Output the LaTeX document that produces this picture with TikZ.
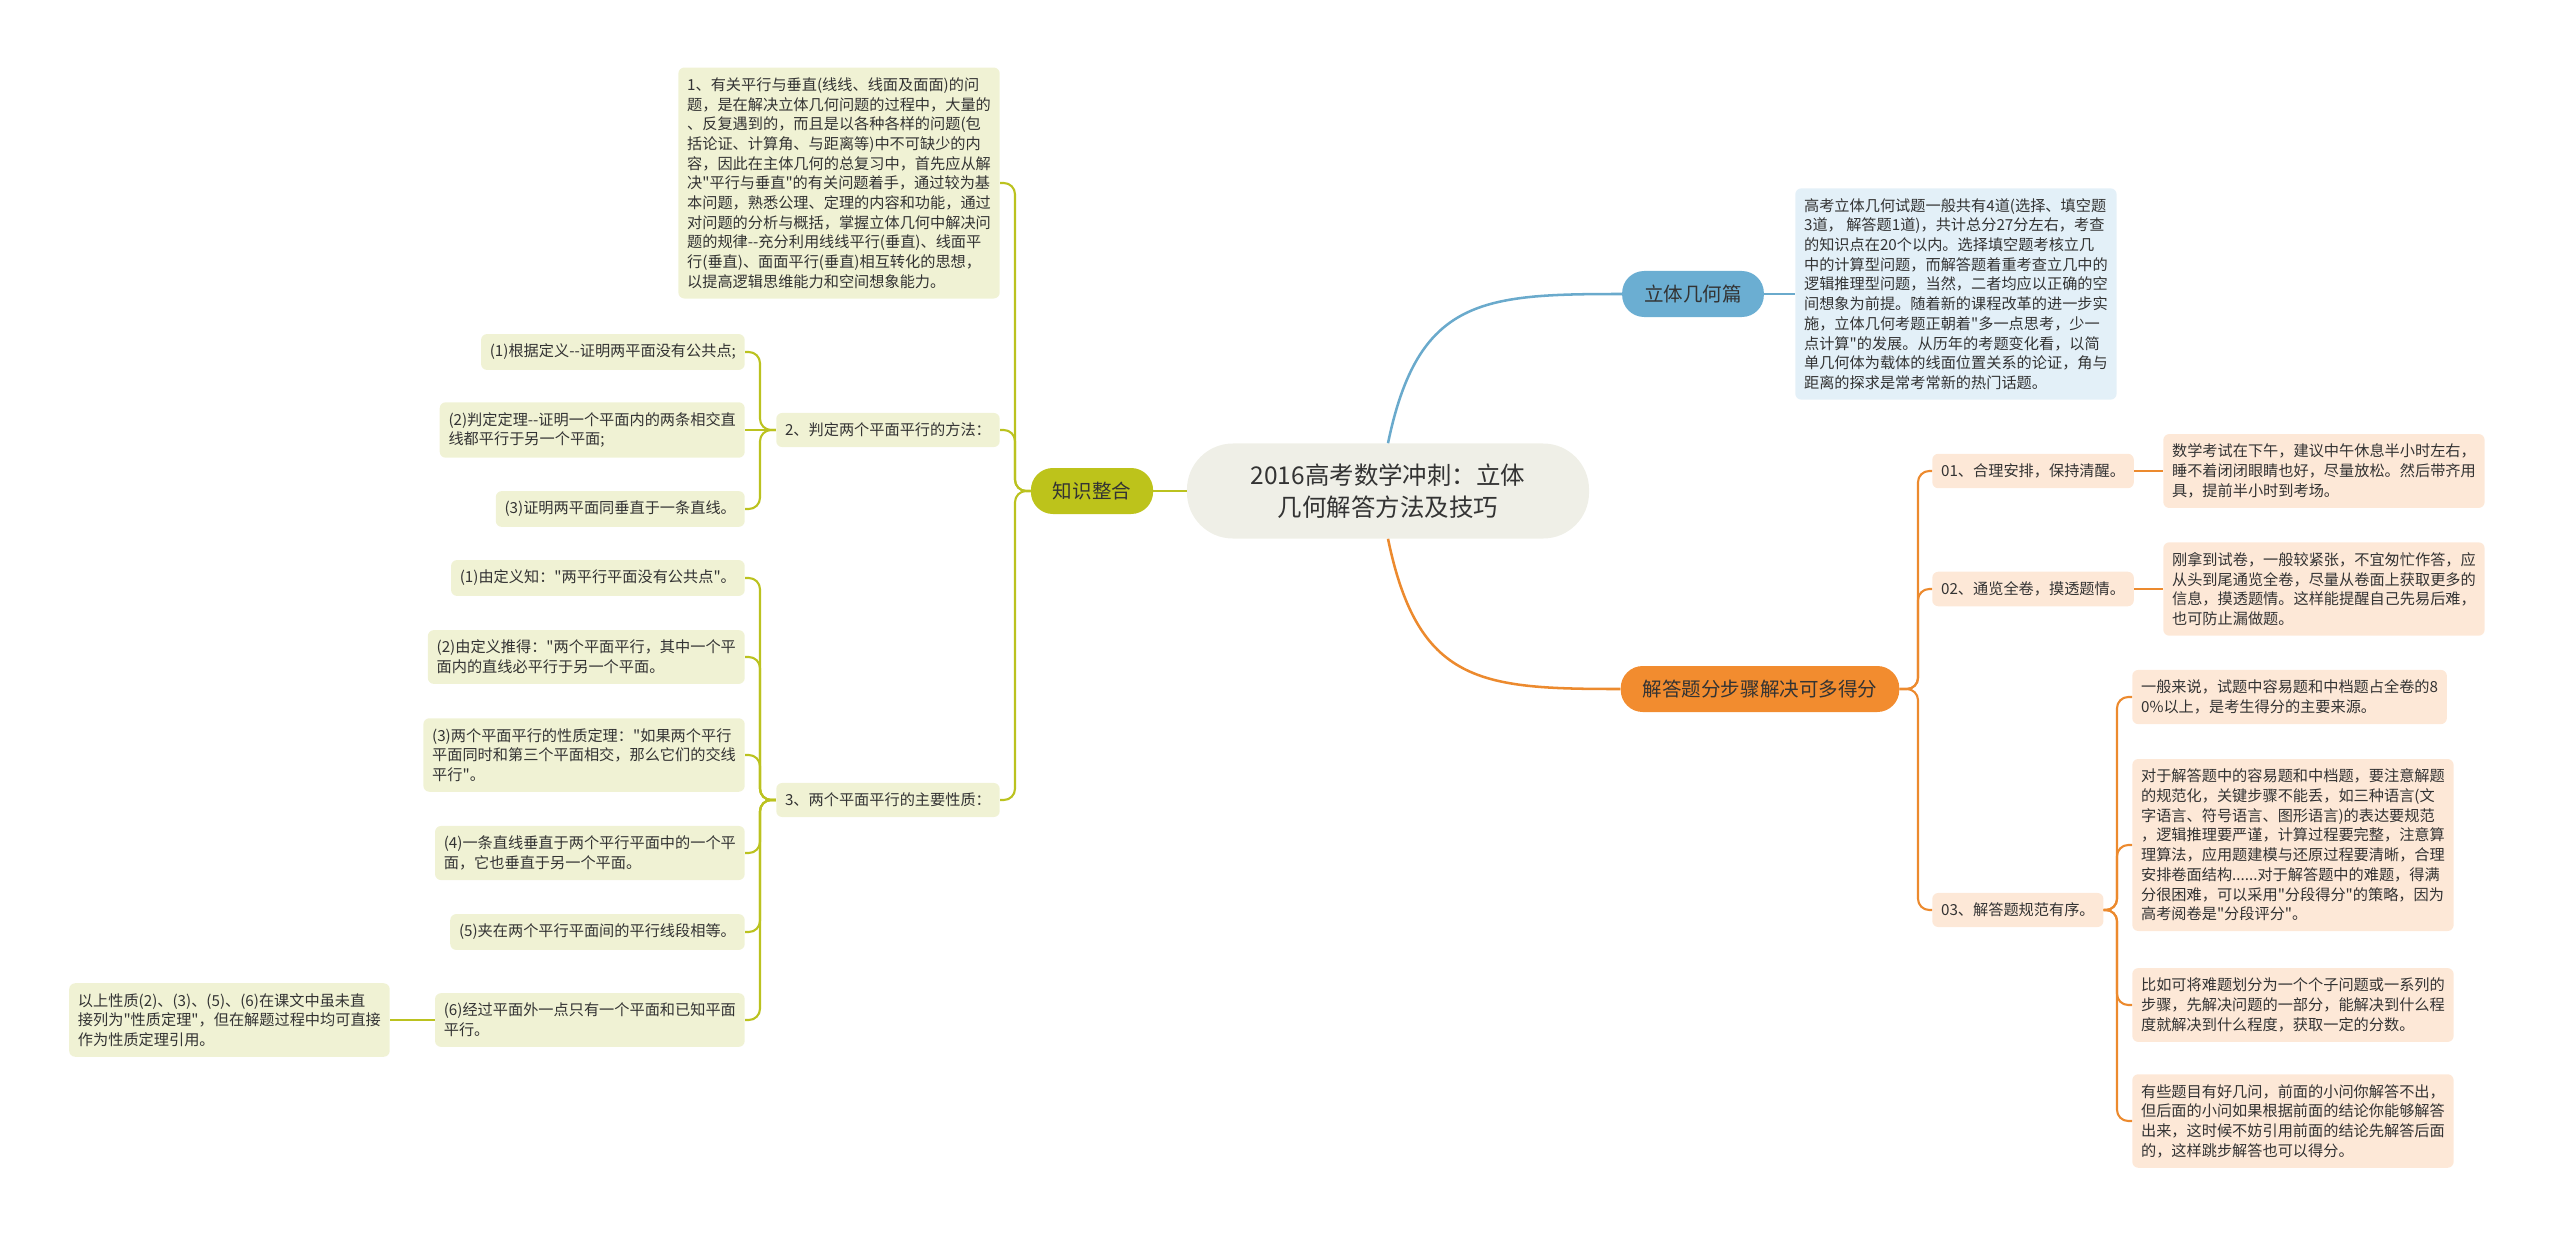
\documentclass[tikz,border=0pt]{standalone}
\usepackage{fontspec}
\newfontfamily\cjk{Noto Sans CJK SC}
\usetikzlibrary{positioning}
\definecolor{ink}{HTML}{333333}
\definecolor{cfill}{HTML}{EFEFE7}
\definecolor{kmain}{HTML}{BDC31B}
\definecolor{kfill}{HTML}{F0F2D4}
\definecolor{kline}{HTML}{BBC21F}
\definecolor{bmain}{HTML}{6BAED2}
\definecolor{bfill}{HTML}{E3F0F8}
\definecolor{bline}{HTML}{6AAACC}
\definecolor{omain}{HTML}{F28C2F}
\definecolor{ofill}{HTML}{FDE8D7}
\definecolor{oline}{HTML}{EC8A2E}

\begin{document}
\begin{tikzpicture}[x=0.025cm, y=-0.025cm,
  box/.style={rounded corners=0.15cm, inner xsep=0.22cm, inner ysep=0.25cm, align=left, text=ink, font=\cjk\fontsize{10.8}{14}\selectfont},
  kb/.style={box, fill=kfill}, bb/.style={box, fill=bfill}, ob/.style={box, fill=ofill},
  main/.style={rounded corners=0.55cm, minimum height=1.15cm, inner xsep=0.55cm, text=ink, font=\cjk\fontsize{13.9}{16}\selectfont},
  kl/.style={draw=kline, line width=1.5pt, rounded corners=0.28cm},
  bl/.style={draw=bline, line width=1.8pt},
  ol/.style={draw=oline, line width=1.5pt, rounded corners=0.28cm}]
\useasboundingbox (0,0) rectangle (2560,1237);

% centre and main topics
\node[main, fill=cfill, align=center, minimum width=10.05cm, minimum height=2.375cm, rounded corners=1.15cm, font=\cjk\fontsize{17.4}{22.7}\selectfont] (root) at (1388,491) {2016高考数学冲刺：立体\\几何解答方法及技巧};
\node[main, fill=kmain] (kz) at (1092,491) {知识整合};
\node[main, fill=bmain] (lt) at (1693,294) {立体几何篇};
\node[main, fill=omain] (jd) at (1760,689) {解答题分步骤解决可多得分};

% left: 知识整合
\node[kb, anchor=east] (k1) at (1000,183) {1、有关平行与垂直(线线、线面及面面)的问\\题，是在解决立体几何问题的过程中，大量的\\、反复遇到的，而且是以各种各样的问题(包\\括论证、计算角、与距离等)中不可缺少的内\\容，因此在主体几何的总复习中，首先应从解\\决"平行与垂直"的有关问题着手，通过较为基\\本问题，熟悉公理、定理的内容和功能，通过\\对问题的分析与概括，掌握立体几何中解决问\\题的规律-{}-充分利用线线平行(垂直)、线面平\\行(垂直)、面面平行(垂直)相互转化的思想，\\以提高逻辑思维能力和空间想象能力。};
\node[kb, anchor=east] (k2) at (1000,430) {2、判定两个平面平行的方法：};
\node[kb, anchor=east] (k3) at (1000,800) {3、两个平面平行的主要性质：};

\node[kb, anchor=east] (c1) at (745,352) {(1)根据定义-{}-证明两平面没有公共点;};
\node[kb, anchor=east] (c2) at (745,430) {(2)判定定理-{}-证明一个平面内的两条相交直\\线都平行于另一个平面;};
\node[kb, anchor=east] (c3) at (745,509) {(3)证明两平面同垂直于一条直线。};

\node[kb, anchor=east] (d1) at (745,578) {(1)由定义知："两平行平面没有公共点"。};
\node[kb, anchor=east] (d2) at (745,657) {(2)由定义推得："两个平面平行，其中一个平\\面内的直线必平行于另一个平面。};
\node[kb, anchor=east] (d3) at (745,755) {(3)两个平面平行的性质定理："如果两个平行\\平面同时和第三个平面相交，那么它们的交线\\平行"。};
\node[kb, anchor=east] (d4) at (745,853) {(4)一条直线垂直于两个平行平面中的一个平\\面，它也垂直于另一个平面。};
\node[kb, anchor=east] (d5) at (745,932) {(5)夹在两个平行平面间的平行线段相等。};
\node[kb, anchor=east] (d6) at (745,1020) {(6)经过平面外一点只有一个平面和已知平面\\平行。};
\node[kb, anchor=east] (nt) at (390,1020) {以上性质(2)、(3)、(5)、(6)在课文中虽未直\\接列为"性质定理"，但在解题过程中均可直接\\作为性质定理引用。};

% right: 立体几何篇
\node[bb, anchor=west] (ltd) at (1795,294) {高考立体几何试题一般共有4道(选择、填空题\\3道， 解答题1道)，共计总分27分左右，考查\\的知识点在20个以内。选择填空题考核立几\\中的计算型问题，而解答题着重考查立几中的\\逻辑推理型问题，当然，二者均应以正确的空\\间想象为前提。随着新的课程改革的进一步实\\施，立体几何考题正朝着"多一点思考，少一\\点计算"的发展。从历年的考题变化看，以简\\单几何体为载体的线面位置关系的论证，角与\\距离的探求是常考常新的热门话题。};

% right: 解答题分步骤解决可多得分
\node[ob, anchor=west] (o1) at (1932,471) {01、合理安排，保持清醒。};
\node[ob, anchor=west] (o1d) at (2163,471) {数学考试在下午，建议中午休息半小时左右，\\睡不着闭闭眼睛也好，尽量放松。然后带齐用\\具，提前半小时到考场。};
\node[ob, anchor=west] (o2) at (1932,589) {02、通览全卷，摸透题情。};
\node[ob, anchor=west] (o2d) at (2163,589) {刚拿到试卷，一般较紧张，不宜匆忙作答，应\\从头到尾通览全卷，尽量从卷面上获取更多的\\信息，摸透题情。这样能提醒自己先易后难，\\也可防止漏做题。};
\node[ob, anchor=west] (o3) at (1932,910) {03、解答题规范有序。};
\node[ob, anchor=west] (e1) at (2132,697) {一般来说，试题中容易题和中档题占全卷的8\\0\%以上，是考生得分的主要来源。};
\node[ob, anchor=west] (e2) at (2132,845) {对于解答题中的容易题和中档题，要注意解题\\的规范化，关键步骤不能丢，如三种语言(文\\字语言、符号语言、图形语言)的表达要规范\\，逻辑推理要严谨，计算过程要完整，注意算\\理算法，应用题建模与还原过程要清晰，合理\\安排卷面结构......对于解答题中的难题，得满\\分很困难，可以采用"分段得分"的策略，因为\\高考阅卷是"分段评分"。};
\node[ob, anchor=west] (e3) at (2132,1005) {比如可将难题划分为一个个子问题或一系列的\\步骤，先解决问题的一部分，能解决到什么程\\度就解决到什么程度，获取一定的分数。};
\node[ob, anchor=west] (e4) at (2132,1121) {有些题目有好几问，前面的小问你解答不出，\\但后面的小问如果根据前面的结论你能够解答\\出来，这时候不妨引用前面的结论先解答后面\\的，这样跳步解答也可以得分。};

% connectors
\draw[kl, line width=1.8pt] (kz) -- (root);
\draw[bl] (root.north) .. controls +(30,-145) and +(-140,0) .. (lt.west);
\draw[ol, line width=1.8pt] (root.south) .. controls +(30,145) and +(-140,0) .. (jd.west);
\draw[bl] (lt) -- (ltd);
\foreach \n in {k1,k2,k3} \draw[kl] (kz.west) -- (1015,491) |- (\n.east);
\foreach \n in {c1,c3} \draw[kl] (k2.west) -- (760,430) |- (\n.east);
\draw[kl] (k2) -- (c2);
\foreach \i in {1,...,6} \draw[kl] (k3.west) -- (760,800) |- (d\i.east);
\draw[kl] (d6) -- (nt);
\foreach \n in {o1,o2,o3} \draw[ol] (jd.east) -- (1918,689) |- (\n.west);
\draw[ol] (o1) -- (o1d);
\draw[ol] (o2) -- (o2d);
\foreach \i in {1,...,4} \draw[ol] (o3.east) -- (2117,910) |- (e\i.west);
\end{tikzpicture}
\end{document}
